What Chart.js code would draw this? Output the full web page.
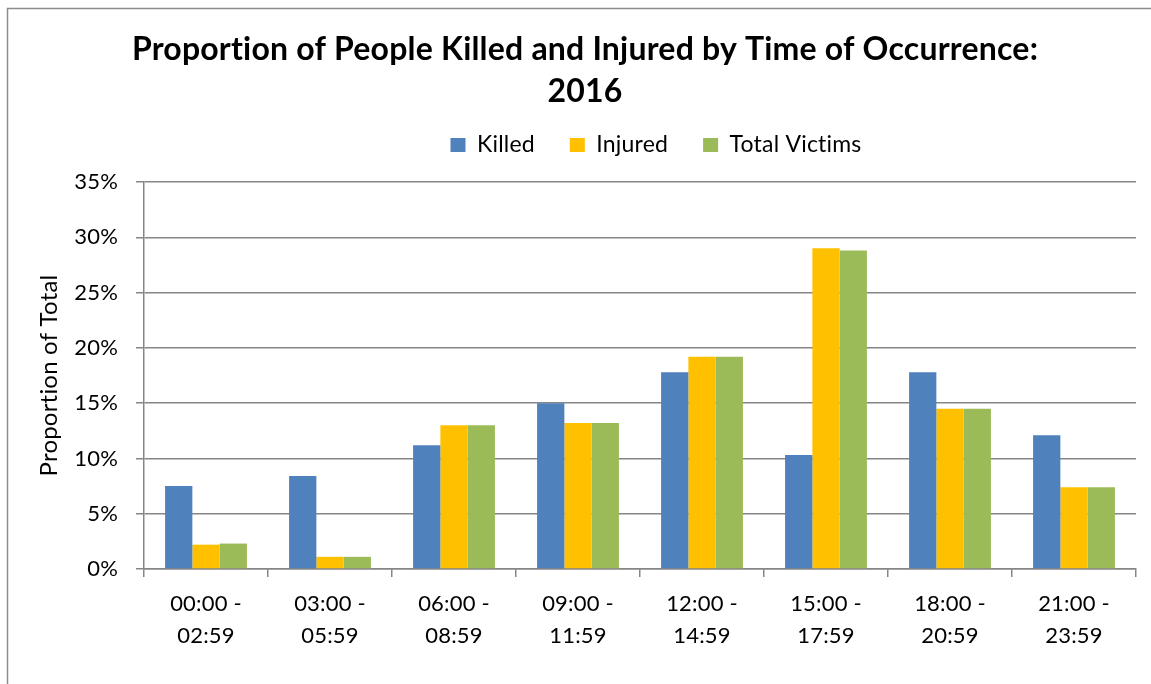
<!DOCTYPE html>
<html>
<head>
<meta charset="utf-8">
<script src="https://cdn.jsdelivr.net/npm/chart.js@4.4.1/dist/chart.umd.min.js"></script>
<style>
html,body{margin:0;padding:0;background:#ffffff;overflow:hidden}
canvas{display:block}
</style>
</head>
<body>
<canvas id="c" width="1151" height="684"></canvas>
<script>
// ---- data ----
const categories = [
  ["00:00 -", "02:59"],
  ["03:00 -", "05:59"],
  ["06:00 -", "08:59"],
  ["09:00 -", "11:59"],
  ["12:00 -", "14:59"],
  ["15:00 -", "17:59"],
  ["18:00 -", "20:59"],
  ["21:00 -", "23:59"]
];
const killed       = [7.5, 8.4, 11.2, 15.0, 17.8, 10.3, 17.8, 12.1];
const injured      = [2.2, 1.1, 13.0, 13.2, 19.2, 29.0, 14.5, 7.4];
const totalVictims = [2.3, 1.1, 13.0, 13.2, 19.2, 28.8, 14.5, 7.4];
const seriesNames  = ["Killed", "Injured", "Total Victims"];
const titleLines   = ["Proportion of People Killed and Injured by Time of Occurrence:", "2016"];
const yAxisTitle   = "Proportion of Total";
const yMin = 0, yMax = 35, yStep = 5;

// ---- styling ----
const GRID = '#868686';
const LEGEND_EXTRA = 15.5;
const LEGEND_SHIFT = 71;

Chart.defaults.font.family = 'Lato, "Noto Sans", sans-serif';
Chart.defaults.color = '#000000';

const frame = {
  id: 'frame',
  beforeLayout(chart) {
    try { chart.ctx.letterSpacing = '0.2px'; } catch (e) {}
  },
  beforeDraw(chart) {
    const ctx = chart.ctx;
    try { ctx.letterSpacing = '0.2px'; } catch (e) {}
    ctx.save();
    ctx.fillStyle = '#ffffff';
    ctx.fillRect(0, 0, chart.width, chart.height);
    ctx.strokeStyle = '#8c8c8c';
    ctx.lineWidth = 1.5;
    ctx.beginPath();
    ctx.moveTo(7.5, chart.height);
    ctx.lineTo(7.5, 8.5);
    ctx.lineTo(chart.width, 8.5);
    ctx.stroke();
    ctx.restore();
  }
};

const legendTweak = {
  id: 'legendTweak',
  beforeLayout(chart) {
    const lg = chart.legend;
    if (lg && !lg.__patched) {
      const fit = lg.fit;
      lg.fit = function () { fit.apply(this, arguments); this.height += LEGEND_EXTRA; };
      lg.__patched = true;
    }
  },
  afterLayout(chart) {
    const lg = chart.legend;
    if (lg) { lg.left += 2 * LEGEND_SHIFT; }
  }
};

new Chart(document.getElementById('c'), {
  type: 'bar',
  data: {
    labels: categories,
    datasets: [
      { label: seriesNames[0], data: killed,       backgroundColor: '#4F81BD' },
      { label: seriesNames[1], data: injured,      backgroundColor: '#FFC000' },
      { label: seriesNames[2], data: totalVictims, backgroundColor: '#9BBB59' }
    ]
  },
  options: {
    responsive: false,
    animation: false,
    devicePixelRatio: 1,
    layout: { padding: { left: 34, right: 15, top: 0, bottom: 0 } },
    datasets: { bar: { categoryPercentage: 0.66, barPercentage: 1.0, borderWidth: 0 } },
    plugins: {
      tooltip: { enabled: false },
      title: {
        display: true,
        text: titleLines,
        color: '#000000',
        font: { size: 32, weight: 'bold', lineHeight: 42 / 32 },
        padding: { top: 28.6, bottom: -14.1 }
      },
      legend: {
        display: true,
        position: 'top',
        align: 'center',
        labels: {
          boxWidth: 15,
          boxHeight: 14,
          padding: 35,
          color: '#000000',
          font: { size: 23 }
        }
      }
    },
    scales: {
      x: {
        grid: { display: true, drawOnChartArea: false, drawTicks: true, tickLength: 8, color: GRID, lineWidth: 1.5, offset: true },
        border: { display: true, color: GRID, width: 1.5 },
        ticks: { autoSkip: false, maxRotation: 0, minRotation: 0, padding: 11, color: '#000000', font: { size: 22, lineHeight: 32 / 22 } },
        afterFit(scale) { scale.height = 115; }
      },
      y: {
        min: yMin,
        max: yMax,
        ticks: { stepSize: yStep, padding: 18, color: '#000000', font: { size: 22 }, callback: (v) => v + '%' },
        grid: { color: GRID, lineWidth: 1.5, tickLength: 8, drawTicks: true },
        border: { display: true, color: GRID, width: 1.5 },
        title: { display: true, text: yAxisTitle, color: '#000000', font: { size: 24 }, padding: { top: 0.6, bottom: 0 } },
        afterFit(scale) { scale.width = 110; }
      }
    }
  },
  plugins: [frame, legendTweak]
});
</script>
</body>
</html>
